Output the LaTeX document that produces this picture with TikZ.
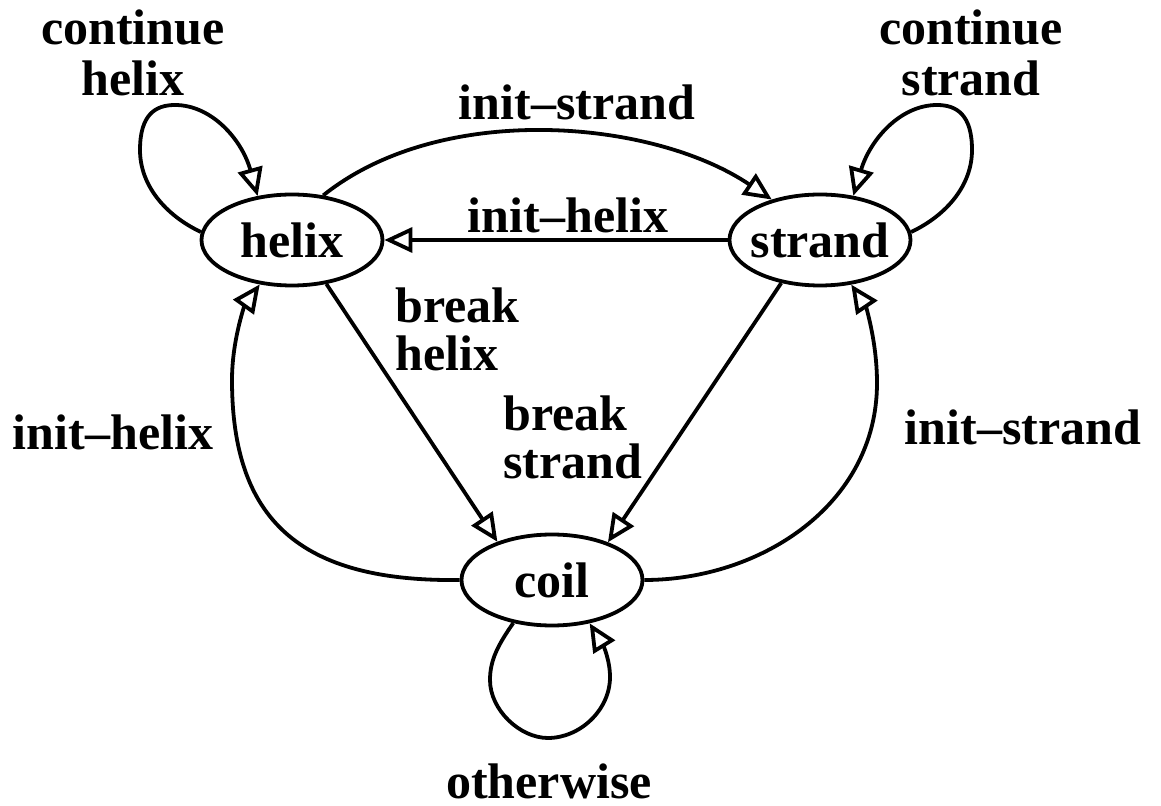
\documentclass[tikz,border=0pt]{standalone}
\usepackage{fontspec}
\setmainfont{Liberation Serif}
\usetikzlibrary{shapes.geometric,arrows.meta}
\newcommand\twoline[4]{{\renewcommand\arraystretch{#1}\begin{tabular}[t]{@{}#2@{}}#3\\#4\end{tabular}}}
\begin{document}
\begin{tikzpicture}[x=0.5pt,y=-0.5pt,
  stnode/.style={ellipse,draw,line width=1.9pt,minimum width=90.5pt,minimum height=45.5pt,inner sep=0pt,font=\fontsize{25}{25.5}\selectfont\bfseries},
  lbl/.style={inner sep=0pt,font=\fontsize{25}{25.5}\selectfont\bfseries},
  conn/.style={line width=1.9pt,line join=miter,-{Triangle[open,length=14pt,width=12.5pt]}}]
\useasboundingbox (0,0) rectangle (1161,806);
\node[stnode] (helix) at (292,240) {\makebox[0pt]{helix}};
\node[stnode] (strand) at (820,240) {\makebox[0pt]{strand}};
\node[stnode] (coil) at (552,580) {\makebox[0pt]{coil}};
% self loops
\draw[conn] (helix.175) .. controls (165,215) and (140,185) .. (140,150)
  .. controls (140,115) and (155,105) .. (175,105)
  .. controls (212,105) and (242,140) .. (helix.128);
\draw[conn] (strand.5) .. controls (947,215) and (972,185) .. (972,150)
  .. controls (972,115) and (957,105) .. (937,105)
  .. controls (900,105) and (870,140) .. (strand.53.7);
\draw[conn] (coil.228) .. controls (498,645) and (490,660) .. (490,680)
  .. controls (490,710) and (520,738) .. (548,738)
  .. controls (580,738) and (610,710) .. (610,677)
  .. controls (610,660) and (603,645) .. (coil.311);
% helix <-> strand
\draw[conn] (helix.55) .. controls (441,101) and (652,119) .. (strand.140);
\draw[conn] (strand.west) -- (helix.east);
% to coil
\draw[conn] (helix.308.7) -- (coil.145.6);
\draw[conn] (strand.228) -- (coil.34.4);
% from coil
\draw[conn] (coil.west) .. controls (300,582) and (232,520) .. (232,380)
  .. controls (232,340) and (245,305) .. (helix.234.6);
\draw[conn] (coil.east) .. controls (760,580) and (877,505) .. (877,383)
  .. controls (877,340) and (865,305) .. (strand.305);
% labels
\node[lbl,anchor=base] (lcontH) at (133,45) {\twoline{1}{c}{continue}{helix}};
\node[lbl,anchor=base] (lcontS) at (971,45) {\twoline{1}{c}{continue}{strand}};
\node[lbl,anchor=base] (linitS) at (577,120) {init–strand};
\node[lbl,anchor=base] (linitH) at (568,233) {init–helix};
\node[lbl,anchor=base west] (lbrkH) at (395,323) {\twoline{0.863}{l}{break}{helix}};
\node[lbl,anchor=base west] (lbrkS) at (503,431) {\twoline{0.863}{l}{break}{strand}};
\node[lbl,anchor=base] (linitH2) at (113,450) {init–helix};
\node[lbl,anchor=base] (linitS2) at (1023,445) {init–strand};
\node[lbl,anchor=base] (lother) at (549,798) {otherwise};
\end{tikzpicture}
\end{document}
